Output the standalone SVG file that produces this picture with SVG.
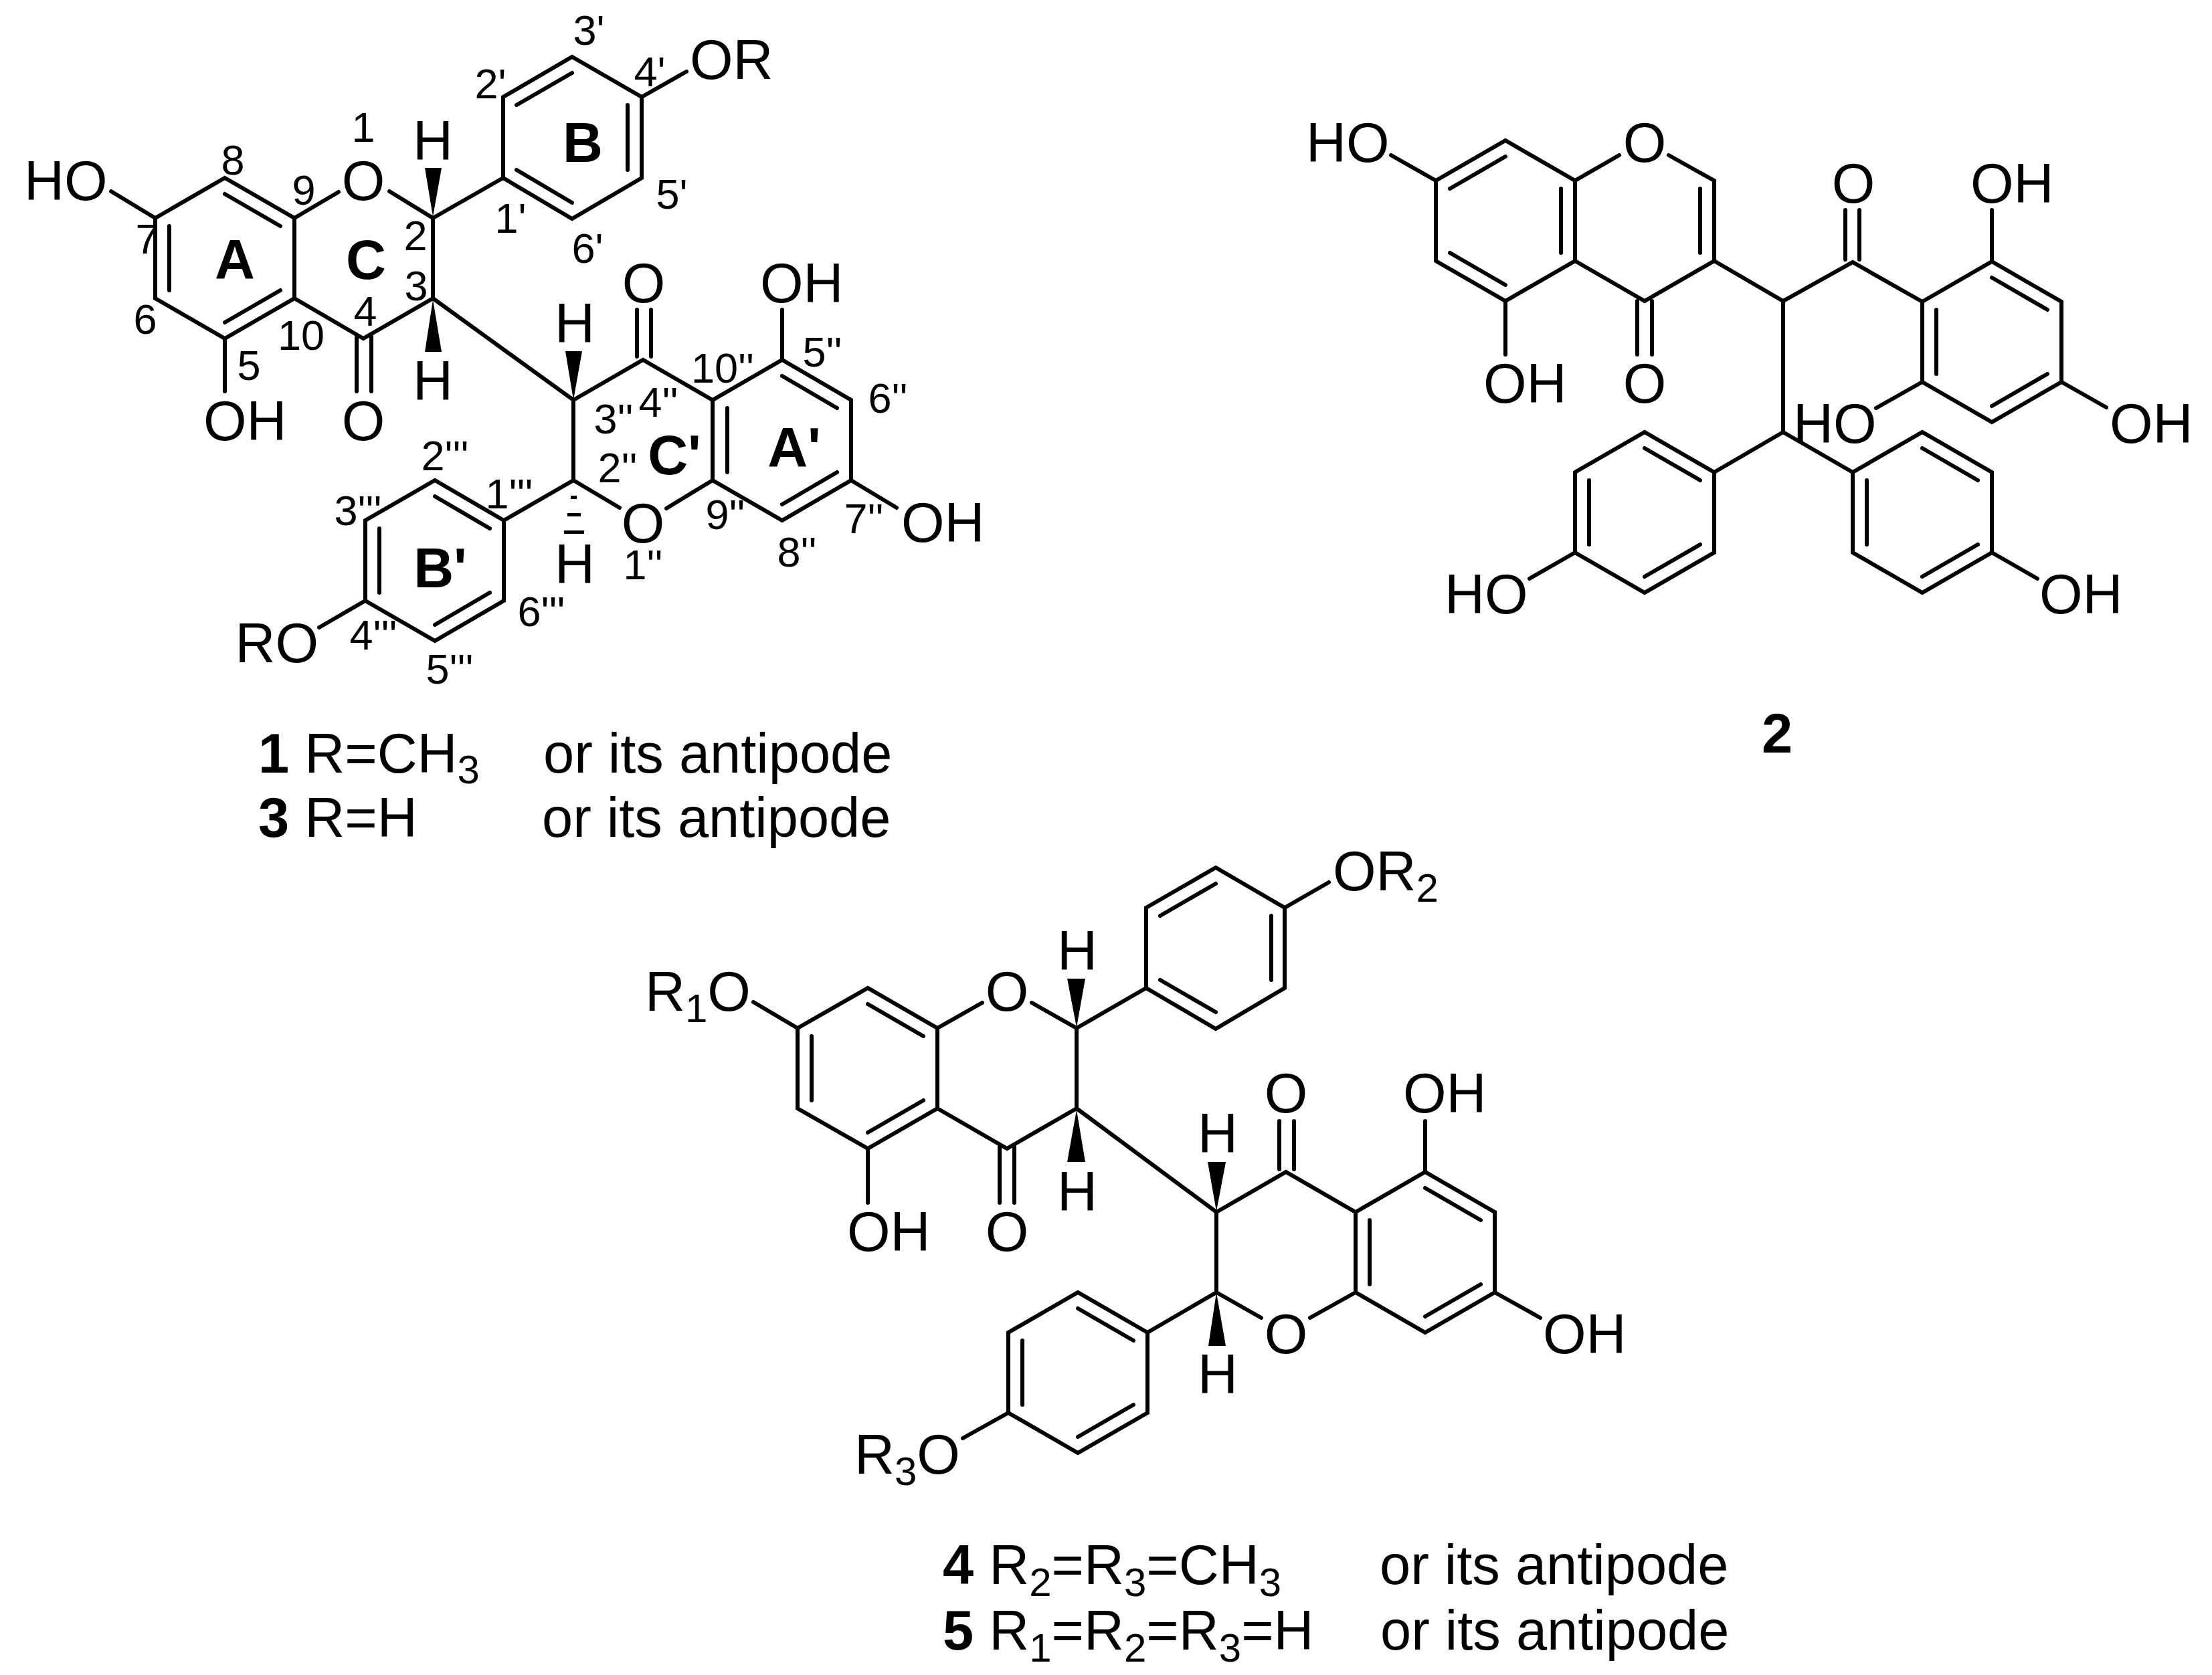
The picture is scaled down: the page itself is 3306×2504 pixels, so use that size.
<svg xmlns="http://www.w3.org/2000/svg" width="3306" height="2504" viewBox="0 0 3306 2504">
<style>
text{font-family:"Liberation Sans",Arial,sans-serif;fill:#000}
.t{font-size:83px}
.n{font-size:63px;text-anchor:middle}
.m{text-anchor:middle}
.b{font-size:83px;font-weight:bold}
.s{font-size:60px}
.bond{fill:none;stroke:#000;stroke-width:6;stroke-linecap:round;stroke-linejoin:miter}
.wedge{fill:#000;stroke:none}
</style>
<rect width="3306" height="2504" fill="#fff"/>

<g id="connectors">
<g id="bonds-1" class="bond">
<path d="M232,326L336,266L440,326L440,446L336,506L232,446Z"/>
<path d="M336,290L419,338M253,338V434M336,482L419,434"/>
<path d="M232,326L166,286M336,506V585M440,326L506,287M582,286L647,326V446L543,506L440,446"/>
<path d="M533,503V585M555,503V585"/>
<path d="M647,326L752,266M752,266V145L855,85L959,145V266L855,327Z"/>
<path d="M772,157L855,109M938,157V254M855,303L772,254M959,145L1026,107"/>
<path d="M647,446L857,598L961,538L1065,598L1169,538L1272,598V718L1169,778L1065,718V598"/>
<path d="M1087,610V706M1169,562L1251,610M1251,706L1169,754"/>
<path d="M952,463V533M973,463V533M1169,538V463M1272,718L1340,759M1065,718L996,760M857,718L926,759M857,598V718L753,778"/>
<path d="M753,778L650,718L546,778V898L650,958L753,898Z"/>
<path d="M732,790L650,742M567,790V886M650,934L732,886M546,898L477,938"/>
</g>
<g id="wedges-1" class="wedge">
<polygon points="647,324 635,251 660,251"/>
<polygon points="647,448 635,526 660,526"/>
<polygon points="857,598 845,525 870,525"/>
<rect x="853" y="741" width="9" height="5"/>
<rect x="848" y="767" width="20" height="5"/>
<rect x="843" y="793" width="30" height="5"/>
</g>
<g id="bonds-2" class="bond">
<path d="M2146,270L2250,210L2354,270V390L2250,450L2146,390Z"/>
<path d="M2167,282L2250,234M2333,282V378M2250,426L2167,378M2146,270L2079,232M2250,450V530"/>
<path d="M2354,270L2420,232M2494,232L2562,270V390L2458,450L2354,390"/>
<path d="M2541,282V378M2447,450V530M2469,450V530"/>
<path d="M2562,390L2665,450L2769,392L2873,451M2665,450V646M2758,314V388M2779,314V388"/>
<path d="M2873,451L2977,391L3081,451V571L2977,631L2873,571Z"/>
<path d="M2894,463V559M2977,415L3060,463M3060,559L2977,607M2977,391V314M2873,571L2804,610M3081,571L3148,609"/>
<path d="M2562,706L2458,646L2354,706V826L2458,886L2562,826Z"/>
<path d="M2665,646L2562,706M2541,718L2458,670M2375,718V814M2458,862L2541,814M2354,826L2286,865"/>
<path d="M2769,706L2873,646L2977,706V826L2873,886L2769,826Z"/>
<path d="M2665,646L2769,706M2873,670L2956,718M2790,718V814M2956,814L2873,862M2977,826L3045,865"/>
</g>
<g id="bonds-4" class="bond">
<path d="M1192,1537L1297,1477L1401,1537V1657L1297,1717L1192,1657Z"/>
<path d="M1297,1501L1380,1549M1213,1549V1645M1297,1693L1380,1645M1192,1537L1126,1498M1297,1717V1798"/>
<path d="M1401,1537L1468,1499M1542,1499L1609,1537V1657L1505,1717L1401,1657"/>
<path d="M1494,1714V1798M1516,1714V1798M1609,1537L1713,1477"/>
<path d="M1713,1477V1357L1817,1297L1920,1357V1477L1817,1538Z"/>
<path d="M1734,1369L1817,1321M1900,1369V1465M1817,1513L1734,1465M1920,1357L1986,1319"/>
<path d="M1609,1657L1818,1812L1922,1752L2026,1812L2130,1752L2234,1812V1932L2130,1992L2026,1932V1812"/>
<path d="M1912,1676V1748M1934,1676V1748M2047,1824V1920M2130,1776L2213,1824M2213,1920L2130,1968M2130,1752V1676"/>
<path d="M2234,1932L2302,1970M2026,1932L1958,1970M1818,1932L1885,1970M1818,1812V1932L1715,1992"/>
<path d="M1715,1992L1611,1932L1507,1992V2112L1611,2172L1715,2112Z"/>
<path d="M1694,2004L1611,1956M1528,2004V2100M1611,2148L1694,2100M1507,2112L1439,2150"/>
</g>
<g id="wedges-4" class="wedge">
<polygon points="1609,1536 1595,1463 1622,1463"/>
<polygon points="1609,1659 1595,1737 1622,1737"/>
<polygon points="1818,1811 1805,1737 1832,1737"/>
<polygon points="1818,1932 1806,2012 1832,2012"/>
</g>
</g>

<g id="molecule-1">
<text class="t" x="36" y="299">HO</text>
<text class="t m" x="543" y="299">O</text>
<text class="t" x="304" y="658">OH</text>
<text class="t m" x="543" y="658">O</text>
<text class="t m" x="647" y="239">H</text>
<text class="t m" x="647" y="598">H</text>
<text class="t" x="1031" y="118">OR</text>
<text class="t m" x="962" y="452">O</text>
<text class="t" x="1136" y="452">OH</text>
<text class="t m" x="859" y="512">H</text>
<text class="t m" x="859" y="872">H</text>
<text class="t m" x="961" y="811">O</text>
<text class="t" x="1347" y="810">OH</text>
<text class="t" x="476" y="990" text-anchor="end">RO</text>
<text class="b m" x="351" y="417">A</text>
<text class="b m" x="547" y="417">C</text>
<text class="b m" x="871" y="242">B</text>
<text class="b m" x="658" y="878">B'</text>
<text class="b m" x="1008" y="709">C'</text>
<text class="b m" x="1187" y="698">A'</text>
<text class="n" x="543" y="212">1</text>
<text class="n" x="348" y="261">8</text>
<text class="n" x="454" y="306">9</text>
<text class="n" x="220" y="379">7</text>
<text class="n" x="217" y="499">6</text>
<text class="n" x="372" y="568">5</text>
<text class="n" x="450" y="523">10</text>
<text class="n" x="546" y="487">4</text>
<text class="n" x="622" y="449">3</text>
<text class="n" x="621" y="374">2</text>
<text class="n" x="733" y="147">2'</text>
<text class="n" x="763" y="348">1'</text>
<text class="n" x="880" y="67">3'</text>
<text class="n" x="971" y="129">4'</text>
<text class="n" x="1004" y="312">5'</text>
<text class="n" x="878" y="393">6'</text>
<text class="n" x="665" y="703">2'''</text>
<text class="n" x="535" y="785">3'''</text>
<text class="n" x="761" y="760">1'''</text>
<text class="n" x="558" y="971">4'''</text>
<text class="n" x="672" y="1022">5'''</text>
<text class="n" x="809" y="936">6'''</text>
<text class="n" x="961" y="866">1''</text>
<text class="n" x="923" y="721">2''</text>
<text class="n" x="917" y="648">3''</text>
<text class="n" x="984" y="623">4''</text>
<text class="n" x="1080" y="572">10''</text>
<text class="n" x="1229" y="548">5''</text>
<text class="n" x="1327" y="617">6''</text>
<text class="n" x="1291" y="797">7''</text>
<text class="n" x="1191" y="847">8''</text>
<text class="n" x="1084" y="791">9''</text>
</g>
<g id="caption-1">
<text class="t" x="386" y="1155"><tspan class="b">1</tspan> R=CH<tspan class="s" dy="16">3</tspan></text>
<text class="t" x="812" y="1155">or its antipode</text>
<text class="t" x="386" y="1251"><tspan class="b">3</tspan> R=H</text>
<text class="t" x="810" y="1251">or its antipode</text>
</g>

<g id="molecule-2">
<text class="t" x="1952" y="242">HO</text>
<text class="t m" x="2458" y="242">O</text>
<text class="t" x="2217" y="602">OH</text>
<text class="t m" x="2458" y="602">O</text>
<text class="t m" x="2770" y="303">O</text>
<text class="t" x="2945" y="303">OH</text>
<text class="t" x="2680" y="662">HO</text>
<text class="t" x="3153" y="662">OH</text>
<text class="t" x="2159" y="917">HO</text>
<text class="t" x="3048" y="917">OH</text>
<text class="b m" x="2656" y="1125">2</text>
</g>

<g id="molecule-4">
<text class="t" x="964" y="1511">R<tspan class="s" dy="17">1</tspan><tspan dy="-17">O</tspan></text>
<text class="t m" x="1505" y="1511">O</text>
<text class="t m" x="1610" y="1450">H</text>
<text class="t m" x="1610" y="1810">H</text>
<text class="t" x="1266" y="1870">OH</text>
<text class="t m" x="1505" y="1870">O</text>
<text class="t" x="1992" y="1331">OR<tspan class="s" dy="17">2</tspan></text>
<text class="t m" x="1820" y="1723">H</text>
<text class="t m" x="1922" y="1663">O</text>
<text class="t" x="2097" y="1663">OH</text>
<text class="t m" x="1922" y="2023">O</text>
<text class="t m" x="1820" y="2083">H</text>
<text class="t" x="2306" y="2023">OH</text>
<text class="t" x="1277" y="2203">R<tspan class="s" dy="17">3</tspan><tspan dy="-17">O</tspan></text>
</g>
<g id="caption-4">
<text class="t" x="1409" y="2368"><tspan class="b">4</tspan> R<tspan class="s" dy="18">2</tspan><tspan dy="-18">=R</tspan><tspan class="s" dy="18">3</tspan><tspan dy="-18">=CH</tspan><tspan class="s" dy="18">3</tspan></text>
<text class="t" x="2062" y="2368">or its antipode</text>
<text class="t" x="1409" y="2466"><tspan class="b">5</tspan> R<tspan class="s" dy="18">1</tspan><tspan dy="-18">=R</tspan><tspan class="s" dy="18">2</tspan><tspan dy="-18">=R</tspan><tspan class="s" dy="18">3</tspan><tspan dy="-18">=H</tspan></text>
<text class="t" x="2063" y="2466">or its antipode</text>
</g>
</svg>
